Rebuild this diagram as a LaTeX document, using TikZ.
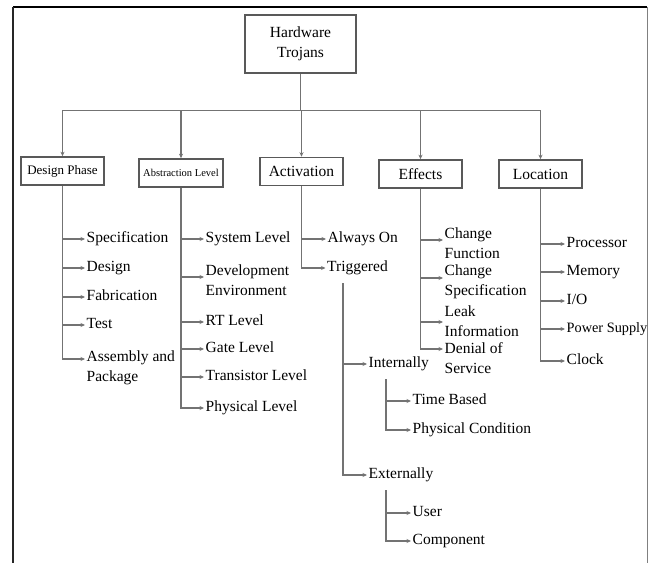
\documentclass[tikz,border=0pt]{standalone}
\usepackage{fontspec}
\setmainfont{LiberationSerif}[Extension=.ttf, UprightFont=*-Regular, BoldFont=*-Bold]
\usetikzlibrary{arrows.meta}

\begin{document}
\begin{tikzpicture}[x=1bp,y=-1bp,
  conn/.style={draw=black!55, line width=1.3bp},
  arr/.style={conn, -{Stealth[length=4.5bp,width=4bp]}},
  box/.style={draw=black!65, line width=1.6bp, fill=white, inner sep=0pt, align=center},
  catbox/.style={box, minimum width=83bp, minimum height=28bp},
  bigfont/.style={font=\fontsize{15.5bp}{19.5bp}\selectfont},
  leaf/.style={bigfont, anchor=west, inner sep=0pt, inner xsep=1.5bp, align=left},
  one/.style={leaf, text height=11bp, text depth=3.5bp},
]
\useasboundingbox (0,0) rectangle (648,563);

% outer frame (open at the bottom)
\draw[black, line width=1.2bp] (13,7) -- (647,7);
\draw[black!85, line width=1.5bp] (13,7) -- (13,563);
\draw[black!50, line width=1bp] (647,7) -- (647,563);

% root and categories
\node[box, bigfont, minimum width=111bp, minimum height=58bp,
      font=\fontsize{15.5bp}{20bp}\selectfont] (root) at (300.5,44) {Hardware\\Trojans};
\node[catbox, font=\fontsize{13bp}{15bp}\selectfont] (dp) at (62.5,171) {Design Phase};
\node[catbox, minimum width=84bp, font=\fontsize{10.5bp}{12bp}\selectfont] (al) at (181,173) {Abstraction Level};
\node[catbox, bigfont] (act) at (301.5,171.5) {Activation};
\node[catbox, bigfont] (eff) at (420.5,174) {Effects};
\node[catbox, bigfont] (loc) at (540.5,174) {Location};

\foreach \c in {dp,al,act,eff,loc}
  \draw[arr] (root.south) -- ++(0,37) -| (\c.north);

% design phase
\node[one] (spec) at (85,239) {Specification};
\node[one] (des)  at (85,268) {Design};
\node[one] (fab)  at (85,297) {Fabrication};
\node[one] (test) at (85,325) {Test};
\node[leaf] (asm) at (85,368) {Assembly and\\Package};
\foreach \c in {spec,des,fab,test}
  \draw[arr] (dp.south) |- (\c.west);
\draw[arr] (dp.south) |- ([yshift=9bp]asm.west);

% abstraction level
\node[one] (sys)   at (204,239) {System Level};
\node[leaf] (dev)  at (204,280) {Development\\Environment};
\node[one] (rtl)   at (204,322) {RT Level};
\node[one] (gate)  at (204,349) {Gate Level};
\node[one] (trans) at (204,377) {Transistor Level};
\node[one] (phys)  at (204,408) {Physical Level};
\foreach \c in {sys,rtl,gate,trans,phys}
  \draw[arr] (al.south) |- (\c.west);
\draw[arr] (al.south) |- ([yshift=3bp]dev.west);

% activation
\node[one] (on)   at (326,239) {Always On};
\node[one] (trig) at (325.5,268) {Triggered};
\draw[arr] (act.south) |- (on.west);
\draw[arr] (act.south) |- (trig.west);

\coordinate (tb) at (343,283);
\node[one] (int) at (367,364) {Internally};
\node[one] (ext) at (367,475) {Externally};
\draw[arr] (tb) |- (int.west);
\draw[arr] (tb) |- (ext.west);

\coordinate (ib) at (386,379);
\node[one] (tbased) at (411,401) {Time Based};
\node[one] (pcond)  at (411,430) {Physical Condition};
\draw[arr] (ib) |- (tbased.west);
\draw[arr] (ib) |- (pcond.west);

\coordinate (eb) at (386,490);
\node[one] (user) at (411,513) {User};
\node[one] (comp) at (411,541) {Component};
\draw[arr] (eb) |- (user.west);
\draw[arr] (eb) |- (comp.west);

% effects
\node[leaf] (cf)  at (443,243) {Change\\Function};
\node[leaf] (cs)  at (443,282) {Change\\Specification};
\node[leaf] (li)  at (443,321) {Leak\\Information};
\node[leaf] (dos) at (443,358) {Denial of\\Service};
\draw[arr] (eff.south) |- ([yshift=3bp]cf.west);
\draw[arr] (eff.south) |- ([yshift=4bp]cs.west);
\draw[arr] (eff.south) |- ([yshift=-1bp]li.west);
\draw[arr] (eff.south) |- ([yshift=9bp]dos.west);

% location
\node[one] (proc) at (565,244) {Processor};
\node[one] (mem)  at (565,272) {Memory};
\node[one] (io)   at (565,301) {I/O};
\node[one, font=\fontsize{14.3bp}{17bp}\selectfont] (ps) at (565,329) {Power Supply};
\node[one] (clk)  at (565,361) {Clock};
\foreach \c in {proc,mem,io,ps,clk}
  \draw[arr] (loc.south) |- (\c.west);
\end{tikzpicture}
\end{document}
